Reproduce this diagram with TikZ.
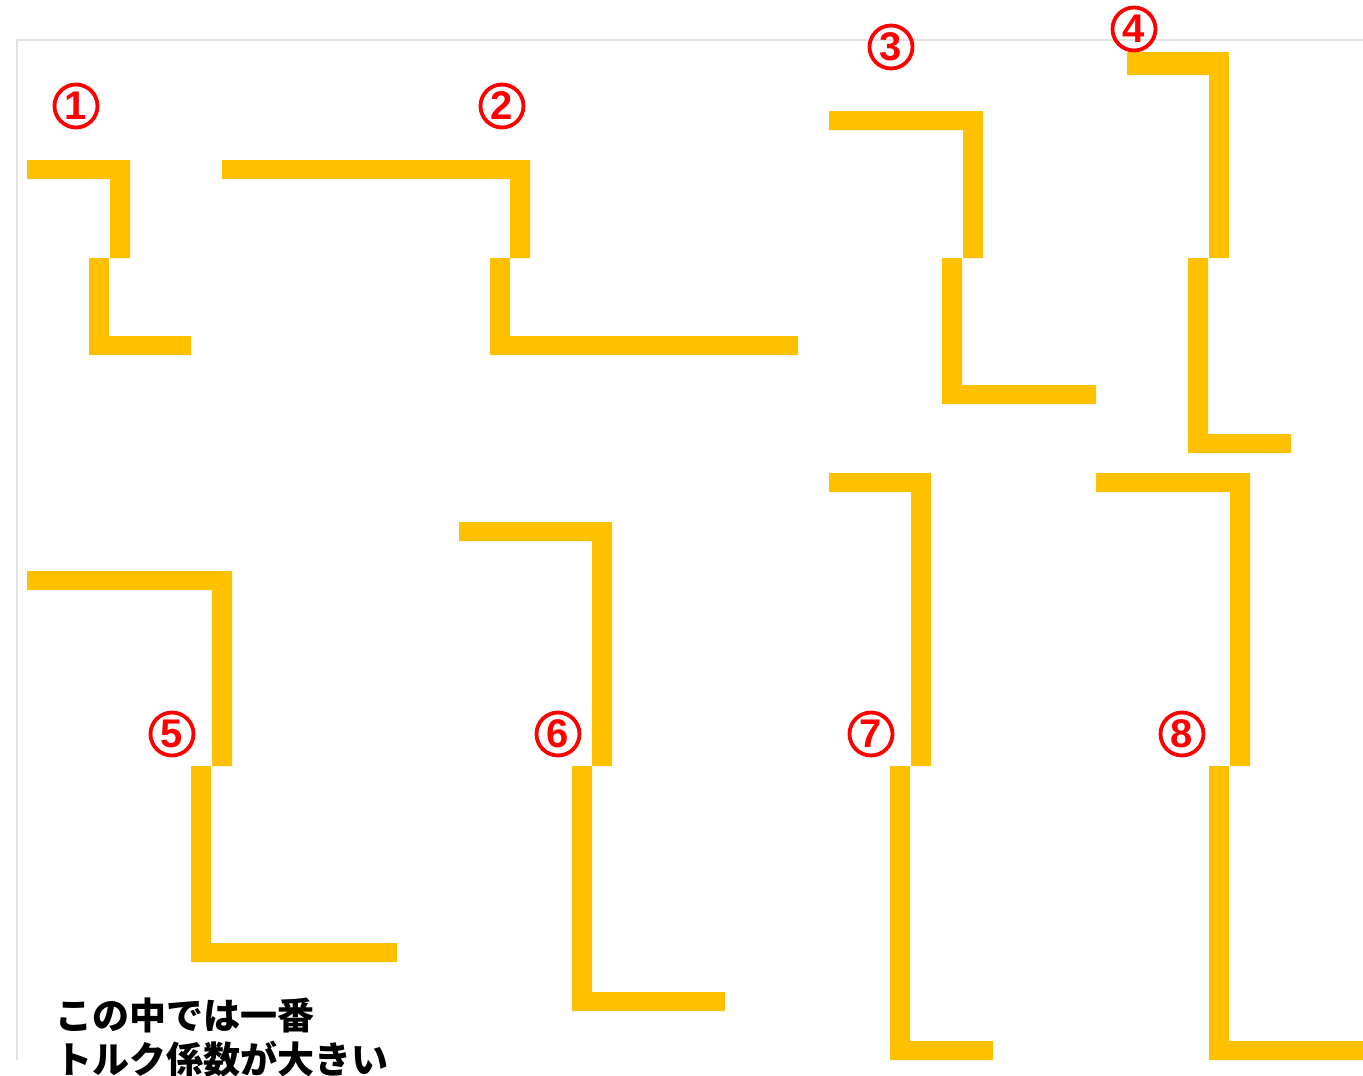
\documentclass[tikz,border=0pt]{standalone}
\usepackage{fontspec}
\newfontfamily\jp{Noto Sans CJK JP}
\newfontfamily\digitfont{Liberation Sans}
\definecolor{gold}{HTML}{FFC000}
\definecolor{framegray}{HTML}{E3E3E3}
\newcommand\crank[7]{%
  \fill[gold] (#1,#2) -- (#3,#2) -- (#3,#4) -- (#3-20,#4) -- (#3-20,#2+19) -- (#1,#2+19) -- cycle;
  \fill[gold] (#5,#4) -- (#5+20,#4) -- (#5+20,#6-19) -- (#7,#6-19) -- (#7,#6) -- (#5,#6) -- cycle;}
\begin{document}
\begin{tikzpicture}[x=1pt,y=-1pt,
  num/.style={circle,draw=red,line width=3.8pt,minimum size=43pt,inner sep=0pt,text=red,
    font=\digitfont\bfseries\fontsize{40}{40}\selectfont},
  caption/.style={inner sep=0pt,anchor=base west,font=\jp\bfseries\fontsize{37}{37}\selectfont}]
\useasboundingbox (0,0) rectangle (1363,1076);
\draw[framegray,line width=1.5pt] (17,1060) -- (17,40) -- (1363,40);
\crank{27}{160}{130}{258}{89}{355}{191}
\crank{222}{160}{530}{258}{490}{355}{798}
\crank{829}{111}{983}{258}{942}{404}{1096}
\fill[gold] (1127,52) -- (1229,52) -- (1229,258) -- (1209,258) -- (1209,75) -- (1127,75) -- cycle;
\fill[gold] (1188,258) -- (1208,258) -- (1208,434) -- (1291,434) -- (1291,453) -- (1188,453) -- cycle;
\crank{27}{571}{232}{766}{191}{962}{397}
\crank{459}{522}{612}{766}{572}{1011}{725}
\crank{829}{473}{931}{766}{890}{1060}{993}
\crank{1096}{473}{1250}{766}{1209}{1060}{1363}
\node[num] (n1) at (76,106) {1};
\node[num] (n2) at (502,106) {2};
\node[num] (n3) at (891,47) {3};
\node[num] (n4) at (1134,29) {4};
\node[num] (n5) at (172,734) {5};
\node[num] (n6) at (558,734) {6};
\node[num] (n7) at (871,734) {7};
\node[num] (n8) at (1182,734) {8};
\node[caption] (t1) at (55,1029) {この中では一番};
\node[caption] (t2) at (55,1073) {トルク係数が大きい};
\end{tikzpicture}
\end{document}
